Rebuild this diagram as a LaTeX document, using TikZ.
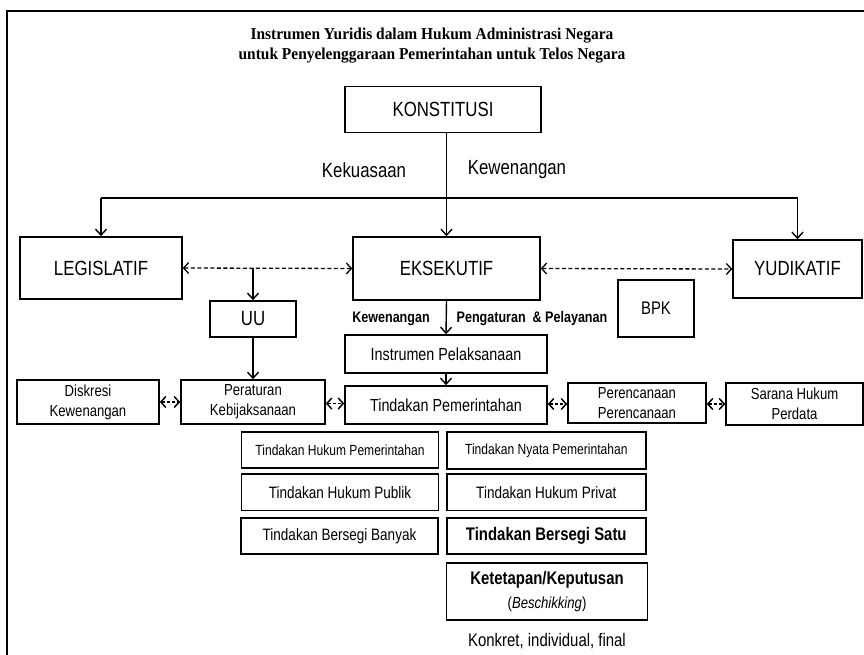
\documentclass[tikz,border=0pt]{standalone}
\usepackage{fontspec}
\setmainfont{Liberation Sans}
\newfontfamily\narrow{Liberation Sans}[FakeStretch=0.82]
\newfontfamily\titlefont{Liberation Serif}[FakeStretch=0.93]
\usetikzlibrary{arrows.meta}
\begin{document}
\begin{tikzpicture}[x=1pt,y=-1pt,
  bx/.style={draw, line width=1.6pt, inner sep=0pt, align=center},
  fA/.style={font=\narrow\fontsize{20.5}{22}\selectfont},
  fB/.style={font=\narrow\fontsize{17.5}{20}\selectfont},
  fC/.style={font=\narrow\fontsize{16}{20}\selectfont},
  fD/.style={font=\narrow\fontsize{14.7}{18}\selectfont},
  fE/.style={font=\narrow\fontsize{16.5}{20}\selectfont},
  fK/.style={font=\narrow\fontsize{18.2}{24}\selectfont},
  ft/.style={font=\titlefont\bfseries\fontsize{16.6}{20}\selectfont, anchor=base, inner sep=0pt},
  ar/.style={line width=1.4pt, -{Straight Barb[length=6pt,width=11pt,line width=1.4pt]}},
  dar/.style={line width=1.3pt, dash pattern=on 4pt off 2.5pt,
    {Straight Barb[length=5pt,width=11pt,line width=1.3pt]}-{Straight Barb[length=5pt,width=11pt,line width=1.3pt]}},
  sar/.style={line width=1.3pt, dash pattern=on 3pt off 2pt,
    {Straight Barb[length=5pt,width=11pt,line width=1.5pt]}-{Straight Barb[length=5pt,width=11pt,line width=1.5pt]}},
  lbl/.style={inner sep=0pt}]
\useasboundingbox (0,0) rectangle (864,655);
% frame
\draw[line width=1.5pt] (864,11) -- (7,11) -- (7,655);
% title
\node[ft] (title1) at (432,39.3) {Instrumen Yuridis dalam Hukum Administrasi Negara};
\node[ft] (title2) at (432,59.3) {untuk Penyelenggaraan Pemerintahan untuk Telos Negara};
% main nodes
\node[bx, fA, minimum width=196pt, minimum height=46pt] (konst) at (443,109.5) {KONSTITUSI};
\node[bx, fA, minimum width=162pt, minimum height=62pt] (legis) at (101,268) {LEGISLATIF};
\node[bx, fA, minimum width=187pt, minimum height=63pt] (eksek) at (446.5,268.5) {EKSEKUTIF};
\node[bx, fA, minimum width=129pt, minimum height=58pt] (yudi) at (797.5,269) {YUDIKATIF};
\node[bx, fA, minimum width=86pt, minimum height=36pt] (uu) at (253,319) {UU};
\node[bx, fK, minimum width=76pt, minimum height=57pt] (bpk) at (656,308.5) {BPK};
\node[bx, fB, minimum width=202pt, minimum height=38pt] (instr) at (446,354) {Instrumen Pelaksanaan};
\node[bx, fB, minimum width=202pt, minimum height=38pt] (tind) at (446,405) {Tindakan Pemerintahan};
\node[bx, fC, minimum width=144pt, minimum height=44pt] (perat) at (253,402) {Peraturan\\Kebijaksanaan};
\node[bx, fC, minimum width=142pt, minimum height=44pt] (diskr) at (88,402) {Diskresi\\Kewenangan};
\node[bx, fC, minimum width=138pt, minimum height=40pt] (peren) at (637,403) {Perencanaan\\Perencanaan};
\node[bx, fC, minimum width=137pt, minimum height=42pt] (sarana) at (794.5,404) {Sarana Hukum\\Perdata};
% lower boxes
\node[bx, fD, minimum width=197pt, minimum height=36pt] (b1) at (340,450) {Tindakan Hukum Pemerintahan};
\node[bx, fE, minimum width=197pt, minimum height=36.5pt] (b2) at (340,492.3) {Tindakan Hukum Publik};
\node[bx, fE, minimum width=197pt, minimum height=36pt] (b3) at (339.5,536) {Tindakan Bersegi Banyak};
\node[bx, fD, minimum width=199pt, minimum height=37pt] (c1) at (546.3,450.5) {Tindakan Nyata Pemerintahan};
\node[bx, fE, minimum width=199pt, minimum height=36.5pt] (c2) at (546.3,492.3) {Tindakan Hukum Privat};
\node[bx, fK, minimum width=199pt, minimum height=36pt] (c3) at (546.3,536) {\bfseries Tindakan Bersegi Satu};
\node[bx, fK, minimum width=201pt, minimum height=57pt] (c4) at (547,591.5)
  {\bfseries Ketetapan/Keputusan\\{\fontsize{16}{20}\selectfont(\itshape Beschikking\/\upshape)}};
\node[lbl, fK] (konkret) at (547,641) {Konkret, individual, final};
% labels
\node[lbl, fA] (kekuasaan) at (364,170) {Kekuasaan};
\node[lbl, fA] (kewenangan) at (517,170) {Kewenangan};
\node[lbl, font=\narrow\bfseries\fontsize{15.3}{18}\selectfont] (kew2) at (391,319) {Kewenangan};
\node[lbl, font=\narrow\bfseries\fontsize{15.3}{18}\selectfont] (peng) at (532,319) {Pengaturan \ \& Pelayanan};
% connectors
\coordinate (hl) at (101,198);
\coordinate (hr) at (797.5,198);
\draw[ar] (konst.south -| eksek.north) -- (eksek.north);
\draw[line width=1.4pt] (hl) -- (hr);
\draw[ar] (hl) -- (legis.north);
\draw[ar] (hr) -- (yudi.north);
\draw[dar] (legis.east) -- (eksek.west);
\draw[dar] (eksek.east) -- (yudi.west);
\coordinate (uj) at (uu.north |- legis.east);
\draw[ar] (uj) -- (uu.north);
\draw[ar] (uu.south) -- (perat.north);
\draw[ar] (eksek.south) -- (instr.north);
\draw[ar] (instr.south) -- (tind.north);
\draw[sar] (diskr.east) -- (perat.west);
\draw[sar] (perat.east |- 0,403.5) -- (tind.west |- 0,403.5);
\draw[sar] (tind.east |- 0,404) -- (peren.west |- 0,404);
\draw[sar] (peren.east |- 0,404) -- (sarana.west |- 0,404);
\end{tikzpicture}
\end{document}
